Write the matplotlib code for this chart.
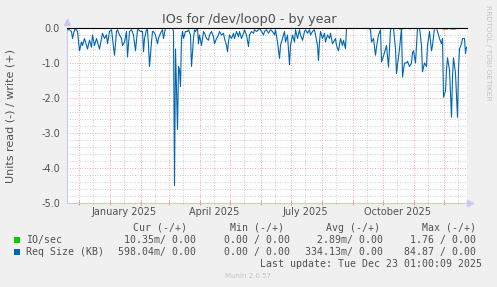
import datetime as dt

import matplotlib
matplotlib.use("Agg")
import matplotlib.pyplot as plt
import matplotlib.dates as mdates
from matplotlib.patches import Rectangle
from matplotlib.ticker import MultipleLocator

W, H = 497, 287

# day offsets from 2024-11-19, one value per sample
BASE = dt.datetime(2024, 11, 19)
days = [1, 3, 5, 6, 8, 10, 11, 13, 15, 16, 18, 20, 21, 23, 25, 26, 28, 30, 31, 33,
        35, 36, 38, 40, 41, 43, 45, 46, 48, 50, 51, 53, 55, 56, 58, 60, 61, 63, 65, 67,
        69, 71, 72, 74, 76, 77, 78, 80, 81, 82, 83, 85, 86, 87, 89, 91, 92, 94, 96, 97,
        99, 101, 104, 106, 107, 108, 109, 111, 112, 113, 114, 115, 116, 117, 119, 121, 122, 124, 125, 127,
        128, 129, 131, 132, 133, 135, 137, 138, 140, 142, 143, 145, 147, 148, 150, 152, 153, 155, 157, 158,
        160, 161, 162, 163, 165, 167, 168, 170, 172, 173, 175, 177, 178, 180, 182, 183, 185, 187, 188, 190,
        192, 193, 195, 197, 198, 200, 202, 204, 206, 208, 209, 211, 213, 214, 216, 218, 219, 221, 223, 224,
        226, 228, 229, 231, 233, 234, 236, 238, 239, 241, 243, 244, 246, 248, 249, 251, 252, 253, 254, 256,
        258, 259, 261, 263, 264, 266, 269, 270, 272, 274, 276, 277, 279, 280, 284, 289, 294, 299, 302, 304,
        305, 307, 309, 310, 312, 314, 315, 317, 319, 320, 322, 324, 325, 327, 329, 330, 331, 333, 335, 336,
        338, 340, 341, 343, 345, 346, 347, 349, 350, 351, 353, 355, 356, 358, 360, 361, 363, 365, 366, 368,
        370, 371, 373, 375, 376, 377, 379, 380, 381, 383, 385, 386, 387, 389, 391, 392, 393, 395, 396, 398,
        399, 400]
req_size = [-0.05, -0.05, -0.1, -0.3, -0.05, -0.05, -0.1, -0.65, -0.4, -0.5, -0.3, -0.5, -0.6, -0.35, -0.55, -0.2, -0.5, -0.3, -0.4, -0.6,
            -0.3, -0.15, -0.3, -0.2, -0.45, -0.1, -0.05, -0.3, -0.78, -0.1, -0.05, -0.2, -0.3, -0.5, -0.4, -0.1, -0.83, -0.1, -0.05, -0.2,
            -0.65, -0.05, -0.05, -0.1, -0.1, -0.68, -0.3, -0.05, -0.05, -0.5, -1.1, -0.4, -0.1, -0.1, -0.2, -0.45, -0.3, -0.15, -0.05, -0.3,
            0.0, 0.0, 0.0, 0.0, -0.1, -4.5, -0.6, -2.9, -1.1, -1.2, -1.67, -0.3, -0.1, -0.3, -0.1, -0.1, -0.05, -0.2, -1.1, -0.3,
            -0.05, -0.1, 0.0, -0.45, -0.2, -0.5, -0.1, -0.15, -0.3, -0.35, -0.2, -0.1, -0.25, -0.45, -0.3, -0.2, -0.1, -0.2, -0.15, -0.3,
            -0.5, -0.68, -0.4, -0.2, -0.3, -0.15, -0.3, -0.1, -0.25, -0.1, -0.3, -0.15, -0.05, -0.2, -0.53, -0.2, -0.1, -0.15, -0.05, -0.1,
            -0.05, 0.0, -0.1, -0.2, -0.1, -0.05, -0.15, -0.05, -0.1, -0.2, -0.05, -0.4, -0.87, -0.5, -0.3, -0.1, -0.4, -0.2, -1.05, -0.5,
            -0.2, -0.4, -0.05, -0.3, -0.05, -0.2, -0.35, -0.1, -0.05, -0.15, -0.05, -0.2, -0.1, -0.05, -0.2, -0.5, -0.93, -0.4, -0.1, -0.3,
            -0.15, -0.4, -0.2, -0.3, -0.15, -0.45, -0.3, -0.5, -0.65, -0.3, -0.5, -0.35, -0.59, 0.0, 0.0, 0.0, 0.0, 0.0, 0.0, -0.05,
            -0.4, -0.3, -0.78, -0.55, -0.2, -0.05, -0.97, -0.8, -0.6, -0.5, -1.12, -0.05, 0.0, 0.0, -0.6, -1.3, -1.05, -0.6, 0.0, -1.4,
            -1.0, -1.0, -0.95, -1.1, -1.0, -0.7, -0.65, -1.0, -0.5, 0.0, 0.0, -0.5, -1.25, -1.0, -1.1, -0.5, -0.1, -0.65, -0.5, 0.0,
            0.0, -0.1, -0.3, -0.45, -0.3, -1.98, -1.8, -1.2, -0.85, -1.2, -2.55, -1.4, -0.85, -1.3, -2.55, -1.2, -0.6, -0.45, -0.3, -0.3,
            -0.73, -0.55]

io_days = [1, 332, 333, 336, 337, 342, 344, 345, 375, 376, 381, 383, 384, 389, 390, 400]
io_sec = [0.0, 0.0, -0.03, -0.03, 0.0, 0.0, -0.03, 0.0, 0.0, -0.03, -0.03, 0.0, -0.03, -0.03, 0.0, 0.0]

month_labels = ["January 2025", "April 2025", "July 2025", "October 2025"]
label_dates = [dt.datetime(2025, 1, 16), dt.datetime(2025, 4, 16),
               dt.datetime(2025, 7, 16), dt.datetime(2025, 10, 16)]

legend_names = ["IO/sec", "Req Size (KB)"]
legend_colors = ["#00CC00", "#0066B3"]
legend_cur = ["10.35m/ 0.00", "598.04m/ 0.00"]
legend_min = ["0.00 / 0.00", "0.00 / 0.00"]
legend_avg = ["2.89m/ 0.00", "334.13m/ 0.00"]
legend_max = ["1.76 / 0.00", "84.87 / 0.00"]

TXT = "#505050"
MONO = "DejaVu Sans Mono"


def fx(x):
    return x / W


def fy(y):
    return 1 - y / H


fig = plt.figure(figsize=(W / 100, H / 100), dpi=100, facecolor="#F0F0F0")
ax = fig.add_axes([fx(67), fy(203), 400 / W, 175 / H])
ax.set_facecolor("white")

x_req = [BASE + dt.timedelta(days=d) for d in days]
x_io = [BASE + dt.timedelta(days=d) for d in io_days]

ax.plot(x_io, io_sec, color=legend_colors[0], lw=0.8, zorder=3)
ax.plot(x_req, req_size, color=legend_colors[1], lw=0.8, zorder=4)
ax.axhline(0, color="black", lw=0.8, zorder=5, clip_on=False)

ax.set_xlim(dt.datetime(2024, 11, 19, 12), dt.datetime(2025, 12, 24, 12))
ax.set_ylim(-5.0, 0.0)

ax.xaxis.set_major_locator(mdates.MonthLocator())
ax.xaxis.set_minor_locator(mdates.MonthLocator(bymonthday=15))
ax.xaxis.set_major_formatter(plt.NullFormatter())
ax.yaxis.set_major_locator(MultipleLocator(1.0))
ax.yaxis.set_minor_locator(MultipleLocator(0.2))
ax.set_yticks([-5, -4, -3, -2, -1, 0])
ax.set_yticklabels([f"{v:.1f}" for v in [-5, -4, -3, -2, -1, 0]])

ax.grid(which="minor", color="#BDBDBD", lw=0.6, linestyle=(0, (1, 2)))
ax.grid(which="major", color="#E49090", lw=0.6, linestyle=(0, (1, 2)))
ax.set_axisbelow(True)

ax.tick_params(axis="y", which="both", length=0, pad=5, labelsize=7, labelcolor=TXT)
ax.tick_params(axis="x", which="major", length=3, direction="inout", color="#E07070", width=0.6)
ax.tick_params(axis="x", which="minor", length=2, direction="inout", color="#C0C0C0", width=0.6)

for s in ["top", "right"]:
    ax.spines[s].set_visible(False)
for s in ["left", "bottom"]:
    ax.spines[s].set_color("#C8C8F0")
    ax.spines[s].set_linewidth(0.8)

ax.plot([0], [1.035], marker="^", ms=4, color="#C8C8F0", transform=ax.transAxes, clip_on=False)
ax.plot([1.008], [0], marker=">", ms=4, color="#C8C8F0", transform=ax.transAxes, clip_on=False)

for d, lab in zip(label_dates, month_labels):
    ax.text(d, -0.052, lab, transform=ax.get_xaxis_transform(), ha="center", va="center",
            fontsize=7, color=TXT)

fig.text(fx(249), fy(19), "IOs for /dev/loop0 - by year", ha="center", va="center",
         fontsize=9.2, color=TXT)
fig.text(fx(11), fy(116), "Units read (-) / write (+)", rotation=90, ha="center", va="center",
         fontsize=8, color=TXT)
fig.text(fx(488), fy(53), "RRDTOOL / TOBI OETIKER", rotation=270, ha="center", va="center",
         fontsize=5.4, color="#C4C4C4")

# legend block
hdr_y = 228
for label, right in zip(["Cur (-/+)", "Min (-/+)", "Avg (-/+)", "Max (-/+)"], [187, 284, 380, 476]):
    fig.text(fx(right), fy(hdr_y), label, ha="right", va="center", family=MONO, fontsize=7.1, color=TXT)

for i, name in enumerate(legend_names):
    y = 240 + 12 * i
    fig.add_artist(Rectangle((fx(14), fy(y + 3)), 6 / W, 6 / H, transform=fig.transFigure,
                             facecolor=legend_colors[i], edgecolor="none"))
    fig.text(fx(26), fy(y), name, ha="left", va="center", family=MONO, fontsize=7.1, color=TXT)
    for val, right in zip([legend_cur[i], legend_min[i], legend_avg[i], legend_max[i]],
                          [196, 290, 383, 476]):
        fig.text(fx(right), fy(y), val, ha="right", va="center", family=MONO, fontsize=7.1, color=TXT)

fig.text(fx(482), fy(264), "Last update: Tue Dec 23 01:00:09 2025", ha="right", va="center",
         family=MONO, fontsize=7.1, color=TXT)
fig.text(fx(248), fy(276), "Munin 2.0.57", ha="center", va="center", fontsize=5, color="#C4C4C4")

fig.savefig("out.png", dpi=100, facecolor=fig.get_facecolor())
